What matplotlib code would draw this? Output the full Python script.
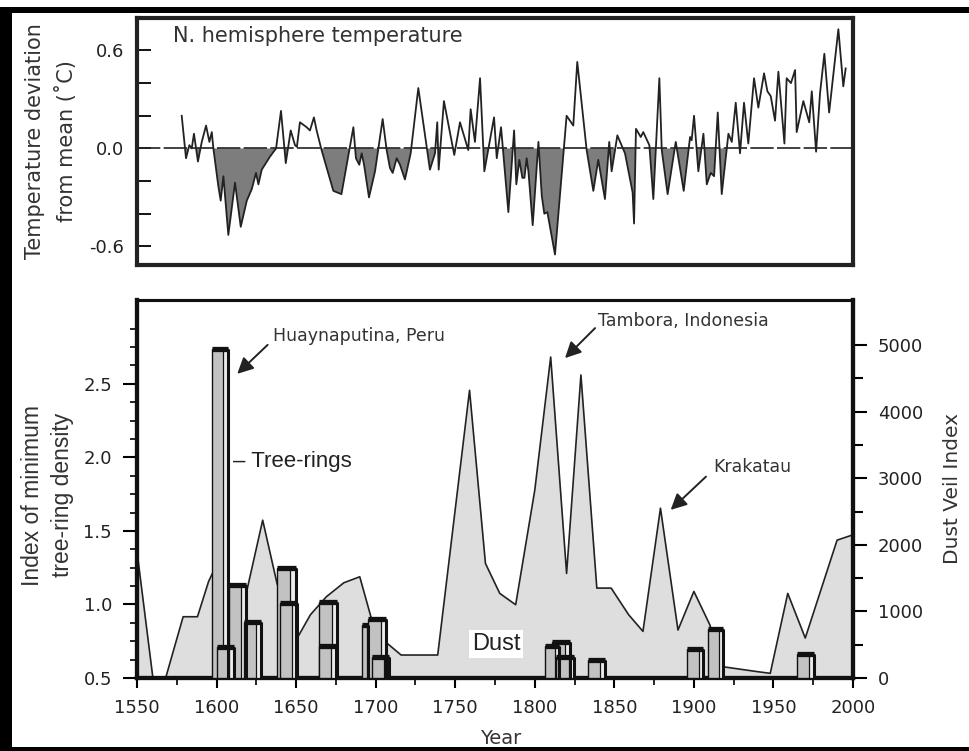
import matplotlib
matplotlib.use("Agg")
import matplotlib.pyplot as plt
from matplotlib.patches import Rectangle
from matplotlib.ticker import MultipleLocator, FixedLocator, FormatStrFormatter
import numpy as np

# ---------------- data ----------------
temp_years = [1578.1, 1580.8, 1582.9, 1584.4, 1585.8, 1588.3, 1590.7, 1593.4, 1595.5, 1597.0,
              1598.0, 1601.1, 1602.6, 1604.3, 1607.4, 1611.6, 1615.2, 1619.0, 1622.1, 1624.8,
              1626.3, 1628.4, 1633.6, 1637.4, 1640.5, 1643.5, 1646.6, 1649.3, 1650.5, 1652.4,
              1656.6, 1658.7, 1661.2, 1662.9, 1666.0, 1673.4, 1678.5, 1686.0, 1687.6, 1689.7,
              1691.2, 1692.7, 1695.8, 1699.6, 1704.4, 1706.9, 1709.0, 1710.7, 1713.2, 1715.3,
              1718.4, 1722.0, 1726.8, 1734.1, 1737.3, 1738.7, 1739.6, 1742.9, 1749.4, 1753.0,
              1758.2, 1759.7, 1762.4, 1765.6, 1768.3, 1774.4, 1776.1, 1778.8, 1783.4, 1787.0,
              1788.4, 1790.3, 1792.2, 1793.5, 1794.9, 1796.0, 1798.7, 1802.3, 1804.4, 1806.0,
              1807.9, 1812.7, 1820.0, 1824.2, 1826.7, 1832.6, 1836.8, 1839.9, 1844.1, 1846.8,
              1848.3, 1851.9, 1856.7, 1861.5, 1862.4, 1863.6, 1866.6, 1868.2, 1872.0, 1874.5,
              1878.3, 1879.8, 1883.5, 1888.6, 1893.6, 1897.6, 1898.6, 1900.1, 1902.8, 1906.0,
              1908.1, 1910.6, 1912.7, 1915.0, 1917.5, 1921.7, 1923.8, 1926.3, 1929.0, 1931.5,
              1934.2, 1937.8, 1940.5, 1944.1, 1946.2, 1948.3, 1951.0, 1953.1, 1956.9, 1958.3,
              1961.0, 1963.6, 1964.6, 1968.8, 1972.5, 1974.1, 1976.8, 1979.3, 1982.0, 1985.0,
              1990.8, 1993.9, 1995.4]
temp_dev = [0.20, -0.06, 0.02, 0.00, 0.09, -0.08, 0.04, 0.14, 0.04, 0.10,
            0.00, -0.23, -0.32, -0.17, -0.53, -0.21, -0.48, -0.32, -0.25, -0.15,
            -0.22, -0.13, -0.05, 0.00, 0.23, -0.09, 0.11, 0.02, 0.01, 0.16,
            0.13, 0.11, 0.19, 0.11, -0.01, -0.26, -0.28, 0.13, -0.06, -0.10,
            -0.03, -0.10, -0.30, -0.14, 0.18, -0.01, -0.12, -0.15, -0.06, -0.10,
            -0.19, -0.03, 0.37, -0.13, -0.03, 0.16, -0.13, 0.29, -0.04, 0.16,
            -0.01, 0.24, 0.04, 0.43, -0.14, 0.19, -0.06, 0.13, -0.39, 0.11,
            -0.22, -0.07, -0.18, -0.18, -0.06, -0.14, -0.47, 0.04, -0.29, -0.40,
            -0.39, -0.65, 0.20, 0.14, 0.53, -0.01, -0.26, -0.07, -0.31, 0.04,
            -0.14, 0.08, -0.03, -0.27, -0.46, 0.12, 0.07, 0.10, 0.02, -0.31,
            0.43, -0.01, -0.28, 0.04, -0.26, 0.07, 0.05, 0.20, -0.14, 0.09,
            -0.22, -0.15, -0.17, 0.22, -0.28, 0.09, 0.04, 0.28, -0.03, 0.28,
            0.03, 0.43, 0.25, 0.46, 0.35, 0.32, 0.17, 0.47, 0.03, 0.43,
            0.40, 0.48, 0.10, 0.29, 0.16, 0.35, -0.02, 0.34, 0.58, 0.22,
            0.73, 0.38, 0.49]

dust_years = [1550, 1560, 1568, 1579, 1588, 1595, 1601, 1616, 1629, 1638, 1650, 1659, 1669,
              1680, 1690, 1697, 1707, 1716, 1739, 1759, 1769, 1778, 1788, 1800, 1810, 1820,
              1829, 1839, 1848, 1859, 1868, 1879, 1890, 1900, 1910, 1918, 1940, 1948, 1959,
              1970, 1990, 2000]
dust_veil = [1900, 0, 0, 920, 920, 1450, 1750, 990, 2370, 1420, 570, 950, 1220,
             1430, 1520, 920, 525, 345, 345, 4320, 1720, 1270, 1100, 2820, 4820, 1570,
             4550, 1350, 1350, 950, 700, 2550, 720, 1300, 800, 170, 95, 70, 1270,
             600, 2070, 2150]

tree_ring_years = [1602, 1605.7, 1613.2, 1622.6, 1643.8, 1645.3, 1669.9, 1669.7, 1693.5,
                   1700.9, 1703.2, 1811, 1816.7, 1818.8, 1838.9, 1900.9, 1913.6, 1970.3]
tree_ring_index = [2.74, 0.71, 1.13, 0.88, 1.25, 1.01, 1.02, 0.72, 0.86,
                   0.90, 0.64, 0.72, 0.745, 0.645, 0.62, 0.70, 0.83, 0.66]
tree_ring_width = [10, 10.5, 10.3, 10.2, 12, 10.5, 11.2, 10.5, 3.8,
                   11, 10.4, 9, 11.4, 11.5, 10.5, 10, 10, 10.6]

temp_ticks = [-0.6, -0.4, -0.2, 0.0, 0.2, 0.4, 0.6]
temp_tick_labels = ["-0.6", "", "", "0.0", "", "", "0.6"]
index_ticks = [0.5, 1.0, 1.5, 2.0, 2.5]
index_minor_ticks = list(np.arange(0.5, 2.9, 0.125))
dust_ticks = [0, 1000, 2000, 3000, 4000, 5000]
dust_minor_ticks = [500, 1500, 2500, 3500, 4500]

# ---------------- figure ----------------
W, H = 969, 751
fig = plt.figure(figsize=(W / 100, H / 100), dpi=100)
fig.patch.set_facecolor("white")

def fx(px):
    return px / W

def fy(py):
    return 1 - py / H

FONT_G = "DejaVu Sans"
FONT_A = "Liberation Sans"

# outer frame bands
for (x0, y0, x1, y1) in [(0, 7, 12, 751), (0, 7, 969, 13), (0, 747, 969, 751)]:
    fig.add_artist(Rectangle((fx(x0), fy(y1)), fx(x1) - fx(x0), fy(y0) - fy(y1),
                             transform=fig.transFigure, facecolor="black",
                             edgecolor="none", zorder=10))

# ---------------- top panel ----------------
axT = fig.add_axes([fx(137), fy(265), fx(853) - fx(137), fy(18.3) - fy(265)])
ty = np.array(temp_years)
tv = np.array(temp_dev)
axT.fill_between(ty, tv, 0, where=tv < 0, interpolate=True, color="#7d7d7d", lw=0)
axT.plot(ty, tv, color="#222222", lw=1.3)
axT.axhline(0, color="#222222", lw=1.2, ls=(0, (14, 2)))
axT.set_xlim(1550, 2000)
axT.set_ylim(-0.714, 0.797)
axT.set_xticks([])
axT.set_yticks(temp_ticks)
axT.set_yticklabels(temp_tick_labels, fontsize=13, family=FONT_G, color="#222222")
axT.tick_params(axis="y", direction="in", length=10, width=1.3, pad=9)
for s in axT.spines.values():
    s.set_linewidth(3)
    s.set_color("#222222")
axT.text(0.05, 0.93, "N. hemisphere temperature", transform=axT.transAxes,
         fontsize=15, family=FONT_G, color="#333333", ha="left", va="center")

fig.text(fx(35), fy(141.5), "Temperature deviation", rotation=90, ha="center", va="center",
         fontsize=15, family=FONT_G, color="#333333")
fig.text(fx(66.5), fy(141.5), "from mean (\u02daC)", rotation=90, ha="center", va="center",
         fontsize=15, family=FONT_G, color="#333333")

# ---------------- bottom panel ----------------
axB = fig.add_axes([fx(137), fy(678), fx(853) - fx(137), fy(300) - fy(678)])
axR = axB.twinx()
axB.set_zorder(axR.get_zorder() + 1)
axB.patch.set_visible(False)

axR.fill_between(dust_years, dust_veil, 0, color="#dedede", lw=0)
axR.plot(dust_years, dust_veil, color="#222222", lw=1.2)
axR.set_ylim(0, 5676)
axR.yaxis.set_major_locator(FixedLocator(dust_ticks))
axR.yaxis.set_minor_locator(FixedLocator(dust_minor_ticks))
axR.tick_params(axis="y", which="major", direction="out", length=10, width=1.5, pad=8,
                labelsize=13)
axR.tick_params(axis="y", which="minor", direction="out", length=7, width=1.5)

# tree-ring bars (drawn tallest first so shorter ones sit in front)
order = np.argsort(tree_ring_index)[::-1]
for i in order:
    xc, val, w = tree_ring_years[i], tree_ring_index[i], tree_ring_width[i]
    left = xc - w / 2
    h = val - 0.5
    axB.bar(left, h, width=w, bottom=0.5, align="edge", color="#c2c2c2",
            edgecolor="#111111", lw=1.0, zorder=3)
    axB.bar(left + 0.72 * w, h, width=0.28 * w, bottom=0.5, align="edge",
            color="#ececec", edgecolor="#111111", lw=0.9, zorder=3)
    axB.plot([left, left + w], [val, val], color="#111111", lw=3.8,
             solid_capstyle="butt", zorder=4)
    axB.plot([left + w, left + w], [0.5, val], color="#111111", lw=2.2,
             solid_capstyle="butt", zorder=4)

axB.set_xlim(1550, 2000)
axB.set_ylim(0.5, 3.07)
axB.yaxis.set_major_locator(FixedLocator(index_ticks))
axB.yaxis.set_minor_locator(FixedLocator(index_minor_ticks))
axB.xaxis.set_major_locator(MultipleLocator(50))
axB.xaxis.set_minor_locator(MultipleLocator(25))
axB.yaxis.set_major_formatter(FormatStrFormatter("%.1f"))
axB.tick_params(axis="y", which="major", direction="out", length=10, width=1.5, pad=8,
                labelsize=13)
axB.tick_params(axis="y", which="minor", direction="out", length=5, width=1.2)
axB.tick_params(axis="x", which="major", direction="out", length=7, width=1.5, pad=8,
                labelsize=13)
axB.tick_params(axis="x", which="minor", direction="out", length=5, width=1.2)

for a in (axB, axR):
    for name, s in a.spines.items():
        s.set_color("#111111")
        s.set_linewidth(2.2 if name == "top" else 3)

for lab in axB.get_xticklabels() + axB.get_yticklabels() + axR.get_yticklabels():
    lab.set_family(FONT_G)
    lab.set_color("#222222")

# annotations
arrow_kw = dict(arrowstyle="-|>,head_length=0.6,head_width=0.3", color="#222222", lw=1.4,
                mutation_scale=16, shrinkA=0, shrinkB=0)
axB.annotate("", xy=(1613.0, 2.568), xytext=(1632.1, 2.765), arrowprops=arrow_kw)
axB.text(1635.7, 2.822, "Huaynaputina, Peru", fontsize=12.5, family=FONT_G,
         color="#333333", ha="left", va="center")
axB.annotate("", xy=(1819.0, 2.675), xytext=(1837.9, 2.879), arrowprops=arrow_kw)
axB.text(1839.9, 2.924, "Tambora, Indonesia", fontsize=12.5, family=FONT_G,
         color="#333333", ha="left", va="center")
axB.annotate("", xy=(1885.4, 1.643), xytext=(1907.6, 1.869), arrowprops=arrow_kw)
axB.text(1912.2, 1.937, "Krakatau", fontsize=12.5, family=FONT_G,
         color="#333333", ha="left", va="center")
axB.text(1610.3, 1.971, "\u2013 Tree-rings", fontsize=16, family=FONT_A,
         color="#222222", ha="left", va="center")
axB.text(1775.6, 0.731, "Dust", fontsize=17, family=FONT_A, color="#222222",
         ha="center", va="center", zorder=6,
         bbox=dict(facecolor="white", edgecolor="none", pad=2))

fig.text(fx(33), fy(495), "Index of minimum", rotation=90, ha="center", va="center",
         fontsize=16.5, family=FONT_A, color="#333333")
fig.text(fx(63), fy(495), "tree-ring density", rotation=90, ha="center", va="center",
         fontsize=16.5, family=FONT_A, color="#333333")
fig.text(fx(953), fy(489), "Dust Veil Index", rotation=90, ha="center", va="center",
         fontsize=14.5, family=FONT_G, color="#333333")
fig.text(fx(501), fy(738), "Year", ha="center", va="center",
         fontsize=14, family=FONT_G, color="#333333")

fig.savefig("out.png", dpi=100, facecolor="white")
